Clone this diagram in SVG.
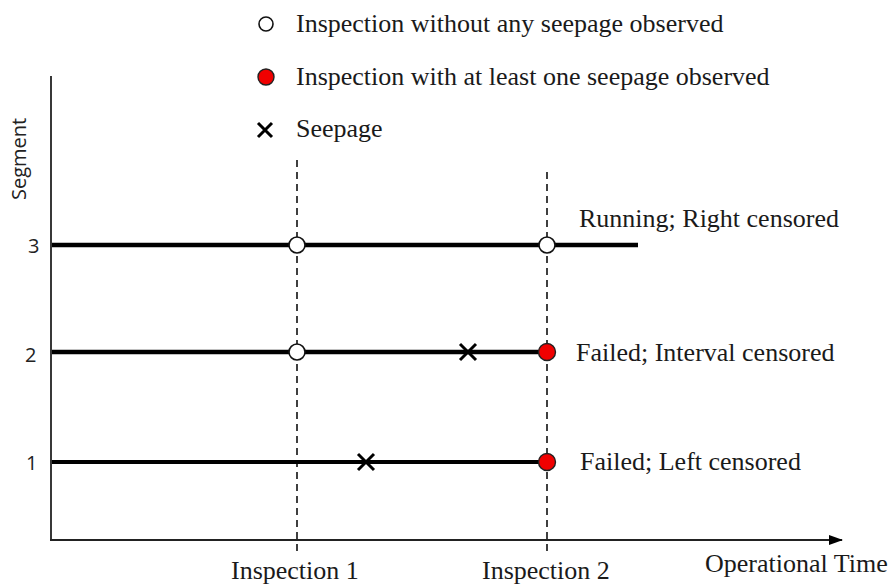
<svg xmlns="http://www.w3.org/2000/svg" width="889" height="585" viewBox="0 0 889 585">
<style>
.t{font-family:"Liberation Serif","Times New Roman",serif;font-size:26px;fill:#1a1a1a}
.s{font-family:"Open Sans","Liberation Sans",sans-serif;font-size:20px;fill:#222}
.seg{stroke:#000;stroke-width:4.5;fill:none}
.dash{stroke:#111;stroke-width:1.6;stroke-dasharray:7 5;fill:none}
.ax{stroke:#222;stroke-width:1.8;fill:none}
.open{fill:#fff;stroke:#111;stroke-width:1.6}
.red{fill:#f00000;stroke:#222;stroke-width:1.4}
.x{stroke:#000;stroke-width:3;fill:none}
</style>
<defs>
<marker id="arr" markerWidth="14" markerHeight="10" refX="13" refY="5" orient="auto" markerUnits="userSpaceOnUse">
<path d="M0,0 L14,5 L0,10 Z" fill="#000"/>
</marker>
</defs>
<rect width="889" height="585" fill="#fff"/>
<g id="legend">
<circle class="open" cx="266" cy="24" r="7"/>
<text class="t" x="296" y="32">Inspection without any seepage observed</text>
<circle class="red" cx="266" cy="77" r="8"/>
<text class="t" x="296" y="85">Inspection with at least one seepage observed</text>
<path class="x" d="M258,123 L272,137 M272,123 L258,137"/>
<text class="t" x="296" y="137">Seepage</text>
</g>
<g id="connectors">
<line class="ax" x1="51" y1="76" x2="51" y2="541"/>
<line class="ax" x1="50" y1="540" x2="842" y2="540" marker-end="url(#arr)"/>
<line class="dash" x1="297" y1="160" x2="297" y2="554"/>
<line class="dash" x1="547" y1="172" x2="547" y2="554"/>
<line class="seg" x1="52" y1="245" x2="638" y2="245"/>
<line class="seg" x1="52" y1="352" x2="547" y2="352"/>
<line class="seg" x1="52" y1="462" x2="547" y2="462" style="stroke-width:4"/>
</g>
<g id="axis-labels">
<text class="s" transform="translate(26,200) rotate(-90)">Segment</text>
<text class="s" x="28" y="253">3</text>
<text class="s" x="25" y="362">2</text>
<text class="s" x="26" y="470">1</text>
<text class="t" x="231" y="579">Inspection 1</text>
<text class="t" x="482" y="579">Inspection 2</text>
<text class="t" x="705" y="572">Operational Time</text>
</g>
<g id="segment3">
<circle class="open" cx="297" cy="245" r="8"/>
<circle class="open" cx="547" cy="245" r="8"/>
<text class="t" x="579" y="227">Running; Right censored</text>
</g>
<g id="segment2">
<circle class="open" cx="297" cy="352" r="8"/>
<path class="x" d="M460,344 L476,360 M476,344 L460,360"/>
<circle class="red" cx="547" cy="352" r="8.5"/>
<text class="t" x="576" y="361">Failed; Interval censored</text>
</g>
<g id="segment1">
<path class="x" d="M358,454 L374,470 M374,454 L358,470"/>
<circle class="red" cx="547" cy="462" r="8.5"/>
<text class="t" x="580" y="470">Failed; Left censored</text>
</g>
</svg>
